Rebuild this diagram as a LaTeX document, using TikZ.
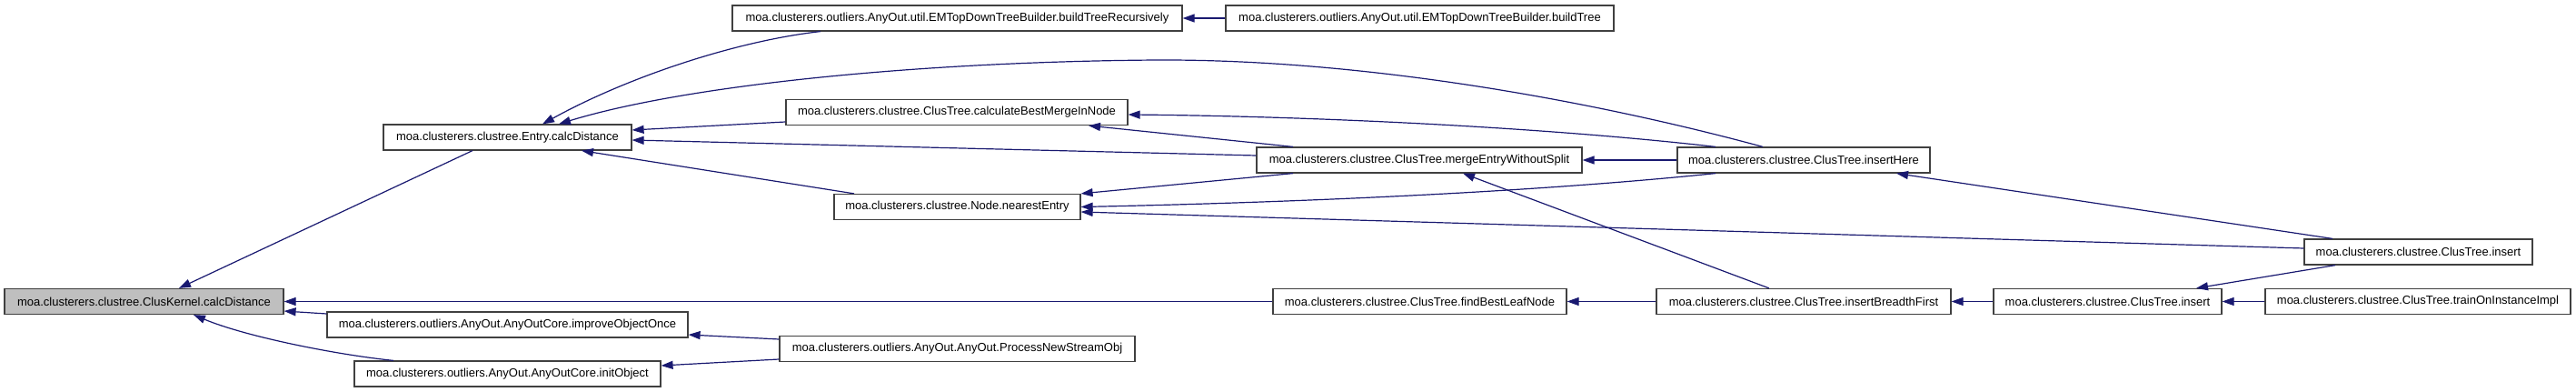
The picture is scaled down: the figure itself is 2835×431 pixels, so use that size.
\documentclass[tikz,border=0pt]{standalone}
\usepackage{fontspec}
\setmainfont{Liberation Sans}
\usetikzlibrary{arrows.meta}
\definecolor{midnight}{HTML}{191970}

\begin{document}
\begin{tikzpicture}[
    x=1pt, y=-1pt,
    every node/.style={draw=black!75, line width=1.2pt, rectangle, font=\fontsize{13}{15}\selectfont, minimum height=28pt, inner sep=0pt},
    root/.style={fill=black!25},
    call/.style={->, draw=midnight, line width=1.2pt},
    >={Triangle[length=13pt,width=9pt]}
]
\useasboundingbox (0,0) rectangle (2835,431);
\node[root, minimum width=307pt] (kernel) at (158.5,331.5) {moa.clusterers.clustree.ClusKernel.calcDistance};
\node[minimum width=273pt] (entry) at (558.5,151) {moa.clusterers.clustree.Entry.calcDistance};
\node[minimum width=397pt] (improve) at (558.5,357) {moa.clusterers.outliers.AnyOut.AnyOutCore.improveObjectOnce};
\node[minimum width=337pt] (init) at (558.5,411) {moa.clusterers.outliers.AnyOut.AnyOutCore.initObject};
\node[minimum width=495pt] (recurs) at (1053.5,20) {moa.clusterers.outliers.AnyOut.util.EMTopDownTreeBuilder.buildTreeRecursively};
\node[minimum width=376pt] (bestmerge) at (1053,123.5) {moa.clusterers.clustree.ClusTree.calculateBestMergeInNode};
\node[minimum width=271pt] (nearest) at (1053.5,227.5) {moa.clusterers.clustree.Node.nearestEntry};
\node[minimum width=391pt] (process) at (1053.5,383.5) {moa.clusterers.outliers.AnyOut.AnyOut.ProcessNewStreamObj};
\node[minimum width=427pt] (build) at (1562.5,20) {moa.clusterers.outliers.AnyOut.util.EMTopDownTreeBuilder.buildTree};
\node[minimum width=358pt] (merge) at (1562,176) {moa.clusterers.clustree.ClusTree.mergeEntryWithoutSplit};
\node[minimum width=323pt] (bestleaf) at (1562.5,331.5) {moa.clusterers.clustree.ClusTree.findBestLeafNode};
\node[minimum width=278pt] (inshere) at (1985,176) {moa.clusterers.clustree.ClusTree.insertHere};
\node[minimum width=324pt] (breadth) at (1985,331.5) {moa.clusterers.clustree.ClusTree.insertBreadthFirst};
\node[minimum width=251pt] (inslow) at (2319.5,331.5) {moa.clusterers.clustree.ClusTree.insert};
\node[minimum width=251pt] (insup) at (2661.5,277) {moa.clusterers.clustree.ClusTree.insert};
\node[minimum width=336pt] (train) at (2661,331.5) {moa.clusterers.clustree.ClusTree.trainOnInstanceImpl};
% callers of ClusKernel.calcDistance
\draw[call] ([xshift=-38.5pt]entry.south) -- ([xshift=38.5pt]kernel.north);
\draw[call] (bestleaf.west) -- (kernel.east);
\draw[call] ([yshift=12pt]improve.west) -- ([yshift=-10.5pt]kernel.east);
\draw[call] ([xshift=-125.5pt]init.north) .. controls (370,390) and (270,370) .. ([xshift=54.5pt]kernel.south);
% callers of Entry.calcDistance
\draw[call] ([xshift=-150.5pt]recurs.south) .. controls (810,45) and (690,85) .. ([xshift=38.5pt]entry.north);
\draw[call] ([xshift=-45pt]inshere.north) .. controls (1750,110) and (1500,65) .. (1273,66) .. controls (1000,68) and (750,95) .. ([xshift=56.5pt]entry.north);
\draw[call] ([yshift=-10.5pt]bestmerge.west) -- ([yshift=8pt]entry.east);
\draw[call] ([yshift=5pt]merge.west) -- ([yshift=-3pt]entry.east);
\draw[call] ([xshift=-113.5pt]nearest.north) -- ([xshift=81.5pt]entry.south);
% tree builder
\draw[call] (build.west) -- (recurs.east);
% ClusTree internals
\draw[call] ([xshift=-97pt]inshere.north) .. controls (1700,140) and (1450,128) .. ([yshift=-2.5pt]bestmerge.east);
\draw[call] ([xshift=-139pt]merge.north) -- ([xshift=145pt]bestmerge.south);
\draw[call] ([xshift=-139pt]merge.south) -- (nearest.north east);
\draw[call] ([xshift=-97pt]inshere.south) .. controls (1700,210) and (1450,222) .. (nearest.east);
\draw[call] ([yshift=4pt]insup.west) -- ([yshift=-5.5pt]nearest.east);
\draw[call] (inshere.west) -- (merge.east);
\draw[call] ([xshift=-38pt]breadth.north) -- ([xshift=48pt]merge.south);
\draw[call] (breadth.west) -- (bestleaf.east);
\draw[call] ([xshift=-94.5pt]insup.north) -- ([xshift=102pt]inshere.south);
\draw[call] (inslow.west) -- (breadth.east);
\draw[call] ([xshift=-91.5pt]insup.south) -- ([xshift=97.5pt]inslow.north);
\draw[call] (train.west) -- (inslow.east);
% AnyOut
\draw[call] ([yshift=10.5pt]process.west) -- ([yshift=-11pt]improve.east);
\draw[call] ([yshift=-11.5pt]process.west) -- ([yshift=9pt]init.east);
\end{tikzpicture}
\end{document}
